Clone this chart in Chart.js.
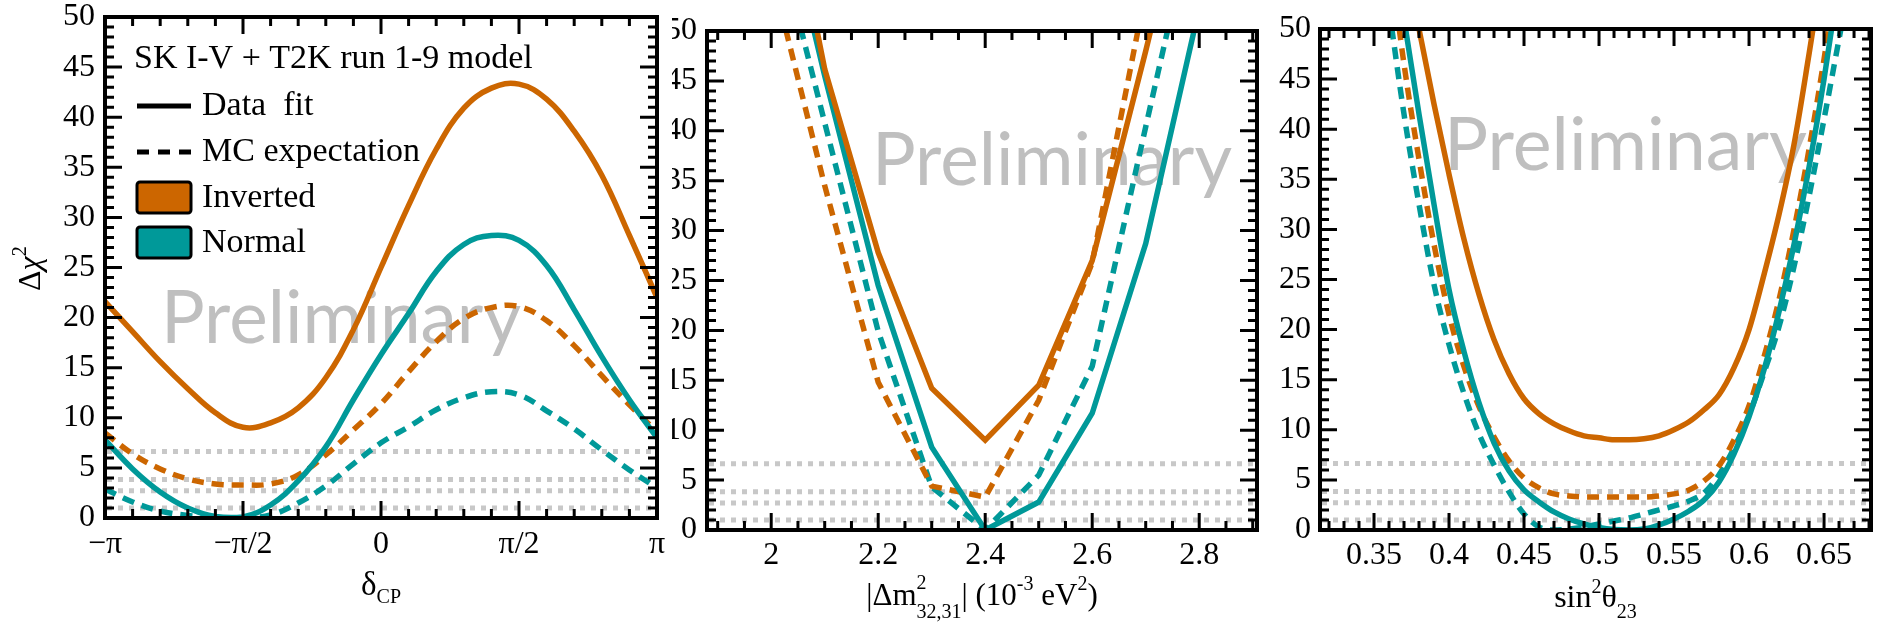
<!DOCTYPE html>
<html>
<head>
<meta charset="utf-8">
<title>SK I-V + T2K Δχ² profiles</title>
<script src="https://cdn.jsdelivr.net/npm/chart.js@4.4.1/dist/chart.umd.min.js"></script>
<style>
  html, body { margin:0; padding:0; background:#ffffff; }
  #wrap { position:relative; width:1881px; height:628px; overflow:hidden; background:#ffffff; }
  #wrap canvas { position:absolute; left:0; top:0; }
</style>
</head>
<body>
<div id="wrap">
  <canvas id="panel3" width="1881" height="628"></canvas>
  <canvas id="panel2" width="1881" height="628"></canvas>
  <canvas id="panel1" width="1881" height="628"></canvas>
</div>
<script>
// ===================== DATA =====================
// Panel 1: delta_CP (grid in units of pi)
const deltaGridOverPi  = [-1, -0.9, -0.8, -0.7, -0.6, -0.5, -0.4, -0.3, -0.2, -0.1, 0, 0.1, 0.2, 0.3, 0.4, 0.5, 0.6, 0.7, 0.8, 0.9, 1];
const deltaInvertedFit = [21.6, 18.6, 15.6, 12.9, 10.5, 9.05, 9.5, 11.0, 14.0, 18.8, 25.0, 31.2, 36.8, 40.9, 42.9, 43.3, 41.8, 38.6, 34.2, 28.2, 22.0];
const deltaNormalFit   = [7.8, 4.9, 2.6, 1.0, 0.15, 0.1, 1.3, 3.7, 7.1, 11.8, 16.3, 20.4, 24.6, 27.3, 28.2, 27.7, 25.2, 20.8, 16.1, 11.8, 8.0];
const deltaInvertedMC  = [8.5, 6.4, 4.9, 3.9, 3.4, 3.3, 3.4, 4.3, 6.3, 8.8, 11.4, 14.6, 17.6, 19.9, 21.0, 21.1, 19.7, 17.2, 14.2, 11.3, 8.6];
const deltaNormalMC    = [2.9, 1.6, 0.7, 0.25, 0.05, 0.0, 0.3, 1.5, 3.2, 5.4, 7.5, 9.1, 10.8, 12.0, 12.6, 12.3, 10.7, 8.9, 6.8, 4.8, 3.0];
const deltaTickOverPi  = [-1, -0.5, 0, 0.5, 1];
const deltaTickLabels  = ['\u2212\u03c0', '\u2212\u03c0/2', '0', '\u03c0/2', '\u03c0'];

// Panel 2: |Delta m^2_32,31| (1e-3 eV^2)
const dm2Grid        = [2.0, 2.1, 2.2, 2.3, 2.4, 2.5, 2.6, 2.7, 2.8];
const dm2InvertedFit = [73, 46.2, 27.8, 14.2, 9.0, 14.5, 27.0, 48.0, 70];
const dm2NormalFit   = [68, 45.5, 24.5, 8.3, 0.0, 2.8, 11.7, 28.7, 52.3];
const dm2InvertedMC  = [56, 34.5, 14.8, 4.4, 3.3, 13.0, 26.8, 54.0, 80];
const dm2NormalMC    = [62, 40.8, 19.9, 4.3, 0.0, 5.5, 16.4, 40.4, 64];
const dm2TickValues  = [2.0, 2.2, 2.4, 2.6, 2.8];
const dm2TickLabels  = ['2', '2.2', '2.4', '2.6', '2.8'];

// Panel 3: sin^2 theta_23
const s23Grid        = [0.35, 0.36, 0.37, 0.38, 0.39, 0.40, 0.41, 0.42, 0.43, 0.44, 0.45, 0.46, 0.47, 0.48, 0.49, 0.50, 0.51, 0.52, 0.53, 0.54, 0.55, 0.56, 0.57, 0.58, 0.59, 0.60, 0.61, 0.62, 0.63, 0.64, 0.65, 0.66, 0.67];
const s23InvertedFit = [null, null, 57, 50, 42.5, 35.5, 29.0, 23.5, 19.0, 15.6, 13.1, 11.6, 10.6, 9.9, 9.4, 9.2, 9.0, 9.0, 9.1, 9.4, 10.0, 10.8, 12.0, 13.5, 16.2, 20.0, 25.5, 31.5, 38.5, 47.5, 57, null, null];
const s23NormalFit   = [null, 60, 51, 41.5, 32.5, 24.0, 17.8, 12.7, 8.7, 5.9, 4.0, 2.8, 1.8, 1.1, 0.6, 0.25, 0.05, 0.0, 0.1, 0.5, 1.1, 1.9, 3.0, 4.8, 7.6, 11.3, 16.0, 21.8, 28.5, 36.2, 45.0, 55, null];
const s23InvertedMC  = [null, 58, 46.5, 37.0, 28.5, 21.5, 16.3, 12.3, 9.3, 6.9, 5.2, 4.2, 3.6, 3.4, 3.3, 3.3, 3.3, 3.3, 3.3, 3.4, 3.6, 4.0, 4.9, 6.4, 9.0, 12.4, 17.3, 23.0, 30.0, 38.0, 47.0, 57, null];
const s23NormalMC    = [62, 52, 41.5, 32.5, 24.5, 18.5, 13.6, 9.6, 6.5, 3.8, 1.6, 0.3, 0.0, 0.1, 0.3, 0.6, 0.9, 1.2, 1.6, 2.0, 2.4, 2.9, 3.7, 5.5, 8.2, 11.5, 15.7, 20.3, 26.3, 33.3, 41.0, 49.0, 57];
const s23TickValues  = [0.35, 0.40, 0.45, 0.50, 0.55, 0.60, 0.65];
const s23TickLabels  = ['0.35', '0.4', '0.45', '0.5', '0.55', '0.6', '0.65'];

// Common
const chi2TickValues = [0, 5, 10, 15, 20, 25, 30, 35, 40, 45, 50];
const chi2TickLabels = ['0', '5', '10', '15', '20', '25', '30', '35', '40', '45', '50'];
const chi2Levels     = [1, 2.71, 3.84, 6.63];
const legendTitle    = 'SK I-V + T2K run 1-9 model';
const legendStyles   = ['Data  fit', 'MC expectation'];
const legendOrders   = ['Inverted', 'Normal'];
const watermark      = 'Preliminary';

// ===================== STYLE / HELPERS =====================
const W = 1881, H = 628, AX = 80;
const SERIF = '"Liberation Serif", "DejaVu Serif", serif';
const ORANGE = '#cc6600', TEAL = '#009999';
Chart.defaults.font.family = SERIF;
Chart.defaults.color = '#000';
function serif(size, italic) { return (italic ? 'italic ' : '') + size + 'px ' + SERIF; }
function range(a, b, step) { const out = []; const n = Math.round((b - a) / step); for (let i = 0; i <= n; i++) out.push(a + i * step); return out; }

function richWidth(ctx, parts) {
  let w = 0;
  for (const p of parts) {
    ctx.font = serif(p.size, p.italic);
    if (p.stack) w += Math.max(...p.stack.map(s => ctx.measureText(s).width));
    else w += ctx.measureText(p.t).width;
  }
  return w;
}
function drawRich(ctx, parts, x, y) {
  let cx = x;
  for (const p of parts) {
    ctx.font = serif(p.size, p.italic);
    if (p.stack) {
      let mw = 0;
      p.stack.forEach((s, k) => { ctx.fillText(s, cx, y + p.dy[k]); mw = Math.max(mw, ctx.measureText(s).width); });
      cx += mw;
    } else {
      ctx.fillText(p.t, cx, y + (p.dy || 0));
      cx += ctx.measureText(p.t).width;
    }
  }
}

function framePlugin(cfg) {
  return {
    id: 'frame_' + cfg.name,
    beforeDraw(chart) {
      if (cfg.before) cfg.before(chart);
    },
    beforeDatasetsDraw(chart) {
      const { ctx, chartArea: a, scales: { y } } = chart;
      ctx.save();
      ctx.fillStyle = '#bfbfbf';
      ctx.font = '74px Lato, "Open Sans", sans-serif';
      ctx.textBaseline = 'alphabetic';
      ctx.textAlign = 'left';
      const w = ctx.measureText(watermark).width;
      ctx.translate(cfg.wm.x, cfg.wm.y);
      ctx.scale(cfg.wm.w / w, 1);
      ctx.fillText(watermark, 0, 0);
      ctx.restore();
      ctx.save();
      ctx.strokeStyle = '#c8c8c8';
      ctx.lineWidth = 5;
      ctx.setLineDash([5, 6]);
      chi2Levels.forEach(v => {
        const py = y.getPixelForValue(v);
        ctx.beginPath(); ctx.moveTo(a.left + 2, py); ctx.lineTo(a.right - 2, py); ctx.stroke();
      });
      ctx.restore();
    },
    afterDraw(chart) {
      const { ctx, chartArea: a, scales: { x, y } } = chart;
      ctx.save();
      ctx.strokeStyle = '#000';
      ctx.lineWidth = 3;
      ctx.setLineDash([]);
      ctx.beginPath();
      const xt = (vals, len) => vals.forEach(v => {
        const px = x.getPixelForValue(v);
        if (px < a.left - 0.5 || px > a.right + 0.5) return;
        ctx.moveTo(px, a.bottom); ctx.lineTo(px, a.bottom - len);
        ctx.moveTo(px, a.top); ctx.lineTo(px, a.top + len);
      });
      const yt = (vals, len) => vals.forEach(v => {
        const py = y.getPixelForValue(v);
        ctx.moveTo(a.left, py); ctx.lineTo(a.left + len, py);
        ctx.moveTo(a.right, py); ctx.lineTo(a.right - len, py);
      });
      xt(cfg.xMinor, 9); xt(cfg.xMajor, 17);
      yt(cfg.yMinor, 9); yt(cfg.yMajor, 17);
      ctx.stroke();
      ctx.lineWidth = 4;
      ctx.strokeRect(a.left, a.top, a.width, a.height);
      ctx.restore();
      ctx.save();
      ctx.fillStyle = '#000';
      ctx.textBaseline = 'alphabetic';
      ctx.textAlign = 'left';
      const tw = richWidth(ctx, cfg.title.parts);
      drawRich(ctx, cfg.title.parts, (a.left + a.right) / 2 - tw / 2, cfg.title.y);
      ctx.restore();
      if (cfg.after) cfg.after(chart);
    }
  };
}

function makeChart(id, cfg) {
  const ds = (label, vals, color, dashed) => ({
    label,
    data: cfg.xs.map((xv, i) => ({ x: xv, y: vals[i] })),
    borderColor: color,
    backgroundColor: color,
    borderWidth: 5.5,
    borderDash: dashed ? [12, 8] : [],
    borderCapStyle: 'butt',
    pointRadius: 0,
    pointHoverRadius: 0,
    fill: false,
    clip: 0,
    spanGaps: false,
    tension: cfg.tension,
    cubicInterpolationMode: cfg.mono ? 'monotone' : 'default'
  });
  const p = cfg.plot;
  const tickFont = { family: SERIF, size: 32, lineHeight: 1 };
  return new Chart(document.getElementById(id), {
    type: 'line',
    data: {
      datasets: [
        ds('Inverted data fit', cfg.series[0], ORANGE, false),
        ds('Normal data fit', cfg.series[1], TEAL, false),
        ds('Inverted MC expectation', cfg.series[2], ORANGE, true),
        ds('Normal MC expectation', cfg.series[3], TEAL, true)
      ]
    },
    options: {
      responsive: false,
      animation: false,
      devicePixelRatio: 1,
      events: [],
      layout: {
        autoPadding: false,
        padding: { left: p.left - AX, top: p.top, right: W - p.right, bottom: H - p.bottom - AX }
      },
      plugins: { legend: { display: false }, tooltip: { enabled: false }, title: { display: false } },
      scales: {
        x: {
          type: 'linear', min: cfg.xMin, max: cfg.xMax,
          afterBuildTicks: s => { s.ticks = cfg.xTickValues.map(v => ({ value: v })); },
          afterFit: s => { s.height = AX; s.paddingLeft = 0; s.paddingRight = 0; s.paddingTop = 0; s.paddingBottom = 0; },
          ticks: { autoSkip: false, maxRotation: 0, minRotation: 0, padding: cfg.xPad, color: '#000', font: tickFont,
                   callback: (v, i) => cfg.xTickLabels[i] },
          grid: { display: false, drawTicks: false },
          border: { display: false }
        },
        y: {
          type: 'linear', min: 0, max: 50,
          afterBuildTicks: s => { s.ticks = chi2TickValues.map(v => ({ value: v })); },
          afterFit: s => { s.width = AX; s.paddingLeft = 0; s.paddingRight = 0; s.paddingTop = 0; s.paddingBottom = 0; },
          ticks: { autoSkip: false, padding: cfg.yPad, color: '#000', font: tickFont,
                   callback: (v, i) => chi2TickLabels[i] },
          grid: { display: false, drawTicks: false },
          border: { display: false }
        }
      }
    },
    plugins: [framePlugin(cfg)]
  });
}

const yMinorAll = range(0, 50, 1);

// ---------- Panel 3 ----------
makeChart('panel3', {
  name: 'p3',
  xs: s23Grid,
  series: [s23InvertedFit, s23NormalFit, s23InvertedMC, s23NormalMC],
  tension: 0.4, mono: true,
  xMin: 0.314, xMax: 0.6813,
  plot: { left: 1320, top: 29, right: 1871, bottom: 530 },
  xTickValues: s23TickValues, xTickLabels: s23TickLabels,
  xPad: 10, yPad: 9,
  xMajor: s23TickValues, xMinor: range(0.32, 0.68, 0.01),
  yMajor: chi2TickValues, yMinor: yMinorAll,
  wm: { x: 1444, y: 170, w: 363 },
  title: { y: 607, parts: [
    { t: 'sin', size: 32 }, { t: '2', size: 20, dy: -14 }, { t: '\u03b8', size: 32 }, { t: '23', size: 20, dy: 11 }
  ] }
});

// ---------- Panel 2 ----------
makeChart('panel2', {
  name: 'p2',
  xs: dm2Grid,
  series: [dm2InvertedFit, dm2NormalFit, dm2InvertedMC, dm2NormalMC],
  tension: 0, mono: false,
  xMin: 1.88, xMax: 2.908,
  plot: { left: 707, top: 31, right: 1257, bottom: 530 },
  xTickValues: dm2TickValues, xTickLabels: dm2TickLabels,
  xPad: 10, yPad: 10,
  xMajor: dm2TickValues, xMinor: range(1.9, 2.9, 0.05),
  yMajor: chi2TickValues, yMinor: yMinorAll,
  wm: { x: 872, y: 185, w: 360 },
  title: { y: 605, parts: [
    { t: '|\u0394m', size: 31 }, { stack: ['2', '32,31'], size: 20, dy: [-16, 13] },
    { t: '| (10', size: 31 }, { t: '-3', size: 20, dy: -15 }, { t: ' eV', size: 31 }, { t: '2', size: 20, dy: -15 }, { t: ')', size: 31 }
  ] }
});

// ---------- Panel 1 ----------
makeChart('panel1', {
  name: 'p1',
  xs: deltaGridOverPi.map(v => v * Math.PI),
  series: [deltaInvertedFit, deltaNormalFit, deltaInvertedMC, deltaNormalMC],
  tension: 0.4, mono: false,
  xMin: -Math.PI, xMax: Math.PI,
  plot: { left: 105, top: 17, right: 657, bottom: 518 },
  xTickValues: deltaTickOverPi.map(v => v * Math.PI), xTickLabels: deltaTickLabels,
  xPad: 11, yPad: 10,
  xMajor: deltaTickOverPi.map(v => v * Math.PI), xMinor: range(-10, 10, 1).map(k => k * Math.PI / 10),
  yMajor: chi2TickValues, yMinor: yMinorAll,
  wm: { x: 161, y: 343, w: 360 },
  title: { y: 595, parts: [ { t: '\u03b4', size: 33 }, { t: 'CP', size: 20, dy: 8 } ] },
  before(chart) {
    const ctx = chart.ctx;
    ctx.save();
    ctx.fillStyle = '#ffffff';
    ctx.fillRect(659, 0, 13, 536);
    ctx.restore();
  },
  after(chart) {
    const ctx = chart.ctx;
    ctx.save();
    ctx.fillStyle = '#000';
    ctx.textBaseline = 'alphabetic';
    ctx.textAlign = 'left';
    ctx.font = serif(34);
    ctx.fillText(legendTitle, 134, 68);
    // line-style samples
    ctx.strokeStyle = '#000';
    ctx.lineWidth = 5;
    ctx.lineCap = 'butt';
    ctx.setLineDash([]);
    ctx.beginPath(); ctx.moveTo(137, 106); ctx.lineTo(191, 106); ctx.stroke();
    ctx.setLineDash([12, 9]);
    ctx.beginPath(); ctx.moveTo(137, 152); ctx.lineTo(191, 152); ctx.stroke();
    ctx.setLineDash([]);
    ctx.fillText(legendStyles[0], 202, 115);
    ctx.fillText(legendStyles[1], 202, 161);
    // hierarchy boxes
    ctx.lineWidth = 3;
    ctx.fillStyle = ORANGE;
    ctx.beginPath(); ctx.roundRect(137, 182, 54, 31, 3); ctx.fill(); ctx.stroke();
    ctx.fillStyle = TEAL;
    ctx.beginPath(); ctx.roundRect(137, 227, 54, 31, 3); ctx.fill(); ctx.stroke();
    ctx.fillStyle = '#000';
    ctx.fillText(legendOrders[0], 202, 207);
    ctx.fillText(legendOrders[1], 202, 252);
    // y-axis title
    ctx.translate(40, 291);
    ctx.rotate(-Math.PI / 2);
    drawRich(ctx, [ { t: '\u0394', size: 32 }, { t: '\u03c7', size: 32, italic: true }, { t: '2', size: 20, dy: -14 } ], 0, 0);
    ctx.restore();
  }
});
</script>
</body>
</html>
